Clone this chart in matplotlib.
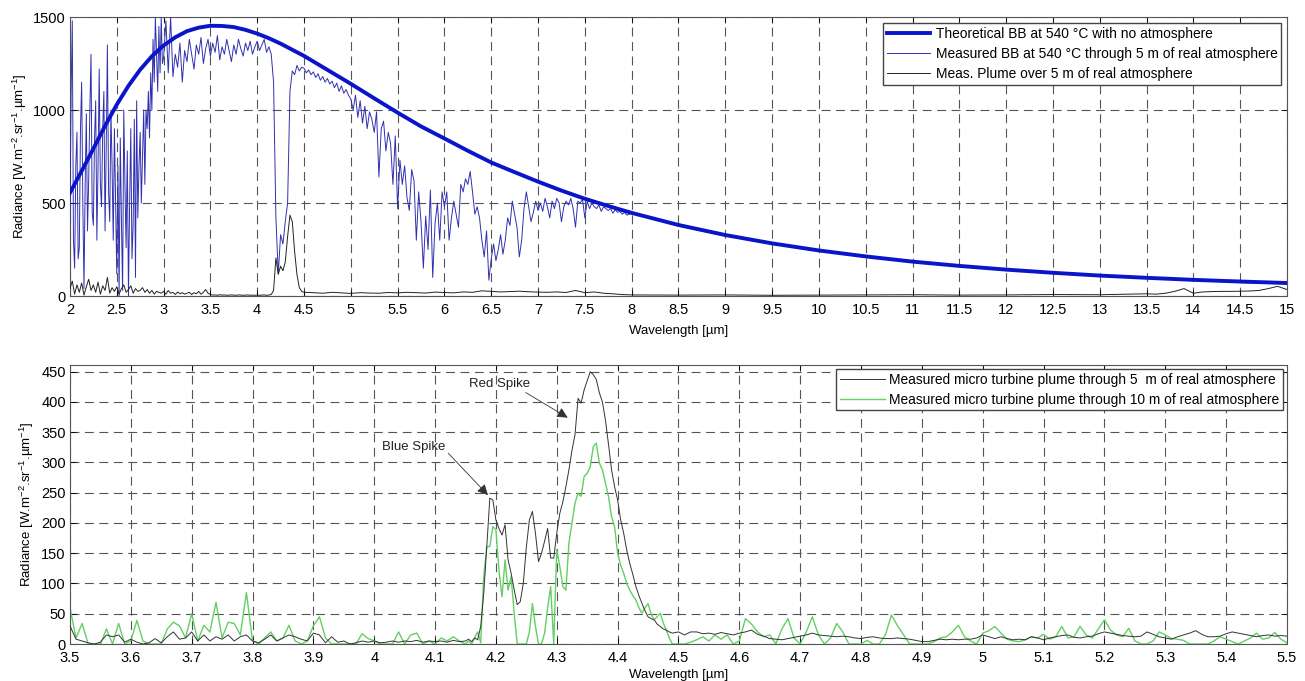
import numpy as np
import matplotlib
matplotlib.use("Agg")
import matplotlib.pyplot as plt
from matplotlib.ticker import MultipleLocator, FormatStrFormatter

plt.rcParams['font.family'] = ['Liberation Sans', 'DejaVu Sans']
plt.rcParams['mathtext.default'] = 'regular'

# ---- top panel data ----
# theoretical black body at 540 C
theo_wl = [2.0, 2.125, 2.25, 2.375, 2.5, 2.625, 2.75, 2.875, 3.0, 3.125, 3.25, 3.375,
           3.5, 3.625, 3.75, 3.875, 4.0, 4.125, 4.25, 4.375, 4.5, 4.75, 5.0, 5.25,
           5.5, 5.75, 6.0, 6.25, 6.5, 6.75, 7.0, 7.25, 7.5, 7.75, 8.0, 8.5, 9.0, 9.5,
           10.0, 10.5, 11.0, 11.5, 12.0, 12.5, 13.0, 13.5, 14.0, 14.5, 15.0]
theo_val = [555, 672, 792, 915, 1029, 1130, 1217, 1289, 1347, 1391, 1424, 1443,
            1453, 1452, 1446, 1431, 1411, 1386, 1357, 1324, 1291, 1216, 1141, 1063,
            986, 912, 847, 781, 718, 666, 615, 567, 523, 484, 447, 382, 328, 283,
            245, 213, 185, 162, 142, 125, 110, 98, 87, 78, 70]

# measured BB through 5 m: 0.0125 um steps 2-3, 0.025 um steps 3-8, then 0.5 um steps
meas_wl = (list(np.linspace(2.0, 2.9875, 80)) + list(np.linspace(3.0, 8.0, 201))
           + list(np.linspace(8.5, 15.0, 14)))
meas_val = [
    400, 1100, 1480, 300, 150, 700, 880, 200,
    260, 900, 1150, 500, 40, 600, 980, 350,
    620, 1000, 1300, 450, 380, 850, 1050, 300,
    700, 1220, 600, 480, 900, 1100, 350, 800,
    1350, 560, 400, 1000, 700, 300, 900, 500,
    120, 700, 0, 850, 400, 30, 1000, 600,
    260, 780, 0, 500, 900, 200, 380, 950,
    100, 1050, 420, 700, 880, 500, 760, 1000,
    600, 1000, 900, 1100, 850, 1200, 1000, 1380,
    1150, 1500, 1300, 1100, 1450, 1200, 1500, 1250,
    1280, 1480, 1200, 1500, 1180, 1300, 1230, 1360, 1150, 1320,
    1260, 1380, 1300, 1220, 1350, 1300, 1390, 1250, 1330, 1380,
    1290, 1360, 1310, 1400, 1270, 1340, 1300, 1380, 1320, 1260,
    1350, 1300, 1380, 1330, 1290, 1360, 1320, 1370, 1300, 1340,
    1370, 1320, 1350, 1380, 1310, 1340, 1300, 1150, 420, 120,
    330, 280, 400, 500, 1100, 1210, 1190, 1240, 1210, 1230,
    1225, 1200, 1215, 1190, 1205, 1175, 1195, 1160, 1180, 1150,
    1170, 1140, 1155, 1120, 1145, 1100, 1130, 1090, 1110, 1080,
    1060, 1000, 1080, 960, 1050, 930, 1020, 900, 990, 950,
    880, 990, 640, 900, 940, 780, 880, 820, 600, 860,
    470, 730, 600, 700, 530, 460, 680, 620, 300, 560,
    400, 150, 430, 250, 570, 100, 390, 500, 300, 560,
    480, 560, 300, 420, 510, 440, 370, 600, 560, 630,
    600, 670, 560, 440, 480, 420, 300, 210, 350, 85,
    200, 280, 190, 250, 330, 225, 300, 420, 380, 510,
    440, 370, 210, 300, 470, 560, 480, 400, 450, 510,
    460, 500, 455, 525, 480, 420, 510, 470, 525, 500,
    400, 480, 510, 490, 525, 470, 370, 510, 500, 520,
    420, 510, 470, 500, 480, 470, 490, 455, 480, 470,
    460, 470, 445, 465, 450, 455, 440, 450, 435, 440,
    445,
    376, 323, 279, 241, 209, 182, 159, 139, 122, 107, 95, 84, 72, 66]

# plume over 5 m
plume_wl = (list(np.linspace(2.0, 4.5, 101)) + list(np.linspace(4.6, 8.0, 35))
            + list(np.linspace(8.5, 13.5, 11)) + list(np.linspace(13.6, 15.0, 15)))
plume_val = [
    40, 80, 10, 60, 20, 70, 5, 50, 90, 30,
    60, 20, 75, 10, 55, 30, 100, 15, 45, 25,
    50, 10, 40, 60, 20, 35, 55, 15, 40, 25,
    30, 45, 20, 35, 15, 30, 10, 25, 20, 15,
    25, 10, 30, 15, 20, 8, 22, 12, 18, 10,
    15, 20, 8, 18, 12, 25, 10, 20, 35, 15,
    8, 5, 6, 4, 7, 5, 6, 4, 5, 6,
    5, 4, 6, 5, 4, 5, 6, 4, 5, 4,
    5, 4, 5, 6, 4, 5, 8, 30, 205, 117,
    160, 136, 183, 320, 435, 400, 238, 115, 45, 25,
    20,
    18, 15, 20, 17, 14, 18, 16, 15, 19, 17,
    20, 18, 16, 21, 19, 17, 22, 20, 28, 25,
    22, 24, 26, 23, 21, 20, 22, 19, 30, 18,
    22, 15, 12, 8, 6,
    5, 6, 4, 5, 6, 7, 5, 6, 8, 7, 12,
    10, 15, 25, 40, 15, 22, 24, 25, 25, 26, 27, 30, 40, 52, 35]

# ---- bottom panel data ----
zoom_wl = (list(np.linspace(3.50, 4.14, 65)) + list(np.linspace(4.15, 4.495, 70))
           + list(np.linspace(4.50, 5.50, 101)))
plume5_val = [
    30, 8, 5, 2, 0, 3, 15, 12, 15, 3,
    8, 3, 0, 2, 9, 2, 12, 20, 8, 10,
    20, 5, 15, 5, 12, 8, 15, 5, 12, 15,
    5, 2, 8, 15, 5, 10, 15, 12, 8, 5,
    18, 15, 2, 12, 3, 5, 0, 2, 5, 3,
    5, 2, 3, 5, 3, 5, 4, 6, 3, 5,
    4, 5, 3, 6, 4,
    5, 8, 4, 10, 7, 29, 84, 161, 241, 238,
    205, 191, 180, 197, 139, 117, 90, 65, 70, 100,
    160, 205, 219, 183, 136, 150, 170, 191, 142, 142,
    183, 216, 235, 260, 288, 320, 346, 406, 398, 420,
    435, 450, 445, 437, 415, 400, 370, 330, 288, 260,
    238, 205, 183, 155, 133, 115, 95, 80, 67, 55,
    45, 42, 40, 33, 29, 25, 23, 20, 18, 19,
    20, 15, 20, 20, 17, 18, 16, 19, 17, 15,
    18, 20, 23, 16, 13, 9, 8, 7, 9, 11,
    13, 15, 18, 15, 14, 13, 12, 13, 12, 10,
    9, 11, 12, 10, 9, 9, 10, 9, 8, 6,
    4, 4, 6, 8, 7, 8, 7, 8, 8, 10,
    15, 12, 9, 12, 9, 7, 8, 7, 12, 10,
    7, 10, 12, 14, 15, 11, 10, 12, 13, 17,
    20, 18, 16, 14, 13, 12, 13, 20, 16, 12,
    10, 8, 12, 15, 18, 22, 16, 12, 12, 13,
    17, 20, 18, 16, 14, 12, 14, 15, 13, 14,
    13]
plume10_val = [
    60, 10, 34, 0, 0, 0, 25, 0, 34, 0,
    5, 39, 5, 0, 0, 0, 25, 36, 30, 10,
    50, 5, 31, 20, 69, 10, 36, 34, 15, 85,
    6, 0, 10, 20, 5, 10, 31, 5, 0, 5,
    30, 45, 10, 0, 0, 0, 0, 0, 17, 9,
    5, 0, 0, 0, 20, 0, 15, 18, 0, 5,
    0, 10, 5, 12, 5,
    0, 5, 0, 10, 20, 2, 111, 161, 161, 194,
    189, 122, 78, 139, 89, 111, 51, 0, 0, 0,
    0, 20, 67, 29, 0, 0, 18, 60, 95, 0,
    156, 128, 95, 89, 167, 200, 233, 249, 244, 277,
    282, 293, 326, 332, 299, 288, 266, 244, 211, 194,
    150, 130, 117, 100, 89, 80, 73, 60, 51, 60,
    67, 50, 40, 45, 51, 35, 23, 10, 0, 0,
    0, 0, 3, 7, 12, 5, 15, 8, 15, 0,
    5, 42, 33, 20, 12, 15, 0, 25, 42, 10,
    0, 20, 45, 15, 0, 10, 34, 20, 0, 0,
    0, 6, 0, 0, 15, 48, 30, 15, 0, 0,
    0, 0, 4, 10, 12, 20, 31, 12, 5, 0,
    18, 22, 29, 18, 8, 5, 4, 7, 12, 10,
    16, 8, 12, 29, 10, 12, 29, 15, 10, 25,
    40, 23, 15, 12, 26, 5, 0, 0, 5, 20,
    15, 9, 8, 6, 0, 0, 0, 0, 5, 12,
    8, 4, 0, 5, 10, 18, 8, 10, 19, 8,
    2]

grid_kw = dict(color='#555555', linestyle='--', linewidth=0.8, dashes=(8, 5))
ylab = 'Radiance [W.m$^{-2}$.sr$^{-1}$.\u00b5m$^{-1}$]'

fig = plt.figure(figsize=(13.05, 6.81), dpi=100)
ax1 = fig.add_axes([0.0536, 0.5653, 0.9326, 0.4097])
ax2 = fig.add_axes([0.0536, 0.0543, 0.9326, 0.4097])

ax1.plot(theo_wl, theo_val, color='#0a14c8', lw=2.8, zorder=4,
         label='Theoretical BB at 540 \u00b0C with no atmosphere')
ax1.plot(meas_wl, meas_val, color='#3030b0', lw=0.7, zorder=3,
         label='Measured BB at 540 \u00b0C through 5 m of real atmosphere')
ax1.plot(plume_wl, plume_val, color='#222222', lw=0.7, zorder=3,
         label='Meas. Plume over 5 m of real atmosphere')
ax1.set_xlim(2, 15)
ax1.set_ylim(0, 1500)
ax1.xaxis.set_major_locator(MultipleLocator(0.5))
ax1.xaxis.set_major_formatter(FormatStrFormatter('%g'))
ax1.yaxis.set_major_locator(MultipleLocator(500))
ax1.set_xlabel('Wavelength [\u00b5m]', fontsize=9.5, labelpad=6)
ax1.set_ylabel(ylab, fontsize=9.5, labelpad=3)
ax1.legend(loc='upper right', fontsize=9.9, handlelength=3.1, borderpad=0.3,
           labelspacing=0.45, fancybox=False, framealpha=1, edgecolor='#444444',
           borderaxespad=0.4, handletextpad=0.4)

ax2.plot(zoom_wl, plume5_val, color='#333333', lw=0.7, zorder=3,
         label='Measured micro turbine plume through 5  m of real atmosphere')
ax2.plot(zoom_wl, plume10_val, color='#62d062', lw=1.0, zorder=2,
         label='Measured micro turbine plume through 10 m of real atmosphere')
ax2.set_xlim(3.5, 5.5)
ax2.set_ylim(0, 461)
ax2.xaxis.set_major_locator(MultipleLocator(0.1))
ax2.xaxis.set_major_formatter(FormatStrFormatter('%g'))
ax2.yaxis.set_major_locator(MultipleLocator(50))
ax2.set_xlabel('Wavelength [\u00b5m]', fontsize=9.5, labelpad=3)
ax2.set_ylabel(ylab, fontsize=9.5, labelpad=4)
ax2.legend(loc='upper right', fontsize=9.9, handlelength=3.3, borderpad=0.25,
           labelspacing=0.45, fancybox=False, framealpha=1, edgecolor='#444444',
           borderaxespad=0.3, handletextpad=0.3)

ax2.annotate('Blue Spike', xy=(4.187, 246), xytext=(4.013, 326), fontsize=9.5,
             color='#222222', va='center',
             arrowprops=dict(arrowstyle='-|>', color='#333333', lw=0.6,
                             mutation_scale=16, shrinkA=0, shrinkB=0,
                             relpos=(1.0, 0.2)))
ax2.annotate('Red Spike', xy=(4.318, 374), xytext=(4.156, 430), fontsize=9.5,
             color='#222222', va='center',
             arrowprops=dict(arrowstyle='-|>', color='#333333', lw=0.6,
                             mutation_scale=16, shrinkA=0, shrinkB=0,
                             relpos=(0.85, 0.0)))

for ax in (ax1, ax2):
    ax.grid(True, **grid_kw)
    ax.set_axisbelow(True)
    ax.tick_params(direction='in', length=4, width=0.6, labelsize=10.5,
                   top=True, right=True)
    ax.tick_params(axis='x', pad=5)
    ax.tick_params(axis='y', pad=3)
    for s in ax.spines.values():
        s.set_color('#555555')
        s.set_linewidth(0.8)

fig.savefig('out.png', dpi=100)
